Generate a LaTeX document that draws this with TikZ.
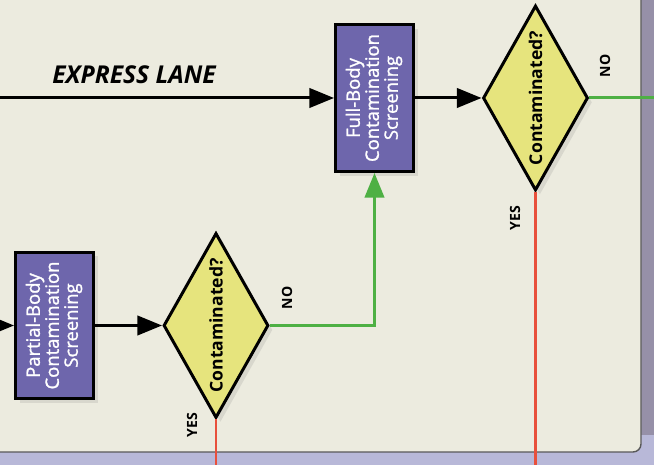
\documentclass[tikz,border=0pt]{standalone}
\usepackage{fontspec}
\setmainfont{Open Sans}
\newfontfamily\boxfont[FakeBold=1.4]{Open Sans}
\usepackage{graphicx}
\usetikzlibrary{shapes.geometric,arrows.meta,positioning,shadows}

\definecolor{panelbg}{RGB}{236,235,223}
\definecolor{bandbg}{RGB}{150,144,168}
\definecolor{lavbg}{RGB}{184,184,216}
\definecolor{boxfill}{RGB}{110,102,172}
\definecolor{diafill}{RGB}{230,228,125}
\definecolor{nogreen}{RGB}{78,176,68}
\definecolor{yesred}{RGB}{232,80,60}

\tikzset{
	screenbox/.style={draw=black, line width=1.7pt, fill=boxfill, text=white,
		minimum width=1.56cm, minimum height=2.94cm, inner sep=0pt,
		drop shadow={opacity=0.18, shadow xshift=2.5pt, shadow yshift=-2.5pt},
		font=\boxfont\fontsize{10.5}{10.3}\selectfont},
	decision/.style={diamond, draw=black, line width=1.7pt, fill=diafill, aspect=0.57,
		inner sep=0pt, minimum width=2.1cm, minimum height=3.7cm,
		drop shadow={opacity=0.18, shadow xshift=2.5pt, shadow yshift=-2.5pt},
		font=\bfseries\fontsize{10}{12}\selectfont},
	flow/.style={line width=1.7pt, -{Triangle[length=14pt,width=11pt]}},
	answer/.style={font=\bfseries\fontsize{8}{10}\selectfont, rotate=90},
}

\begin{document}
\begin{tikzpicture}[x=0.02cm,y=-0.02cm]
	\useasboundingbox (0,0) rectangle (654,465);
	% background and panel
	\fill[lavbg] (0,0) rectangle (654,465);
	\fill[bandbg] (641,0) rectangle (654,435);
	\fill[panelbg, rounded corners=0.16cm] (-10,-10) rectangle (641,452);
	\draw[black!65, line width=0.8pt, rounded corners=0.16cm] (641,-10) -- (641,452) -- (-10,452);
	
	% express lane
	\coordinate (expin) at (0,98);
	\node[font=\bfseries\itshape\fontsize{14}{16}\selectfont] (exptxt) at (134,75) {EXPRESS LANE};
	\node[screenbox] (fullbox) at (374.5,98)
		{\rotatebox{90}{\begin{tabular}{@{}c@{}}Full-Body\\Contamination\\Screening\end{tabular}}};
	\node[decision] (check1) at (535.5,98) {\rotatebox{90}{Contaminated?}};
	\node[answer] (no1) at (605,66) {NO};
	\node[answer] (yes1) at (515,218) {YES};
	\coordinate (exitno) at (660,98);
	\coordinate (exityes1) at (535.5,470);
	
	% partial-body lane
	\coordinate (partin) at (0,325.5);
	\node[screenbox] (partbox) at (54.5,325.5)
		{\rotatebox{90}{\begin{tabular}{@{}c@{}}Partial-Body\\Contamination\\Screening\end{tabular}}};
	\node[decision] (check2) at (216,325.5) {\rotatebox{90}{Contaminated?}};
	\node[answer] (no2) at (287,298) {NO};
	\node[answer] (yes2) at (192,425) {YES};
	\coordinate (exityes2) at (216,470);
	
	% connectors
	\draw[flow] (expin) -- (fullbox.west);
	\draw[flow] (fullbox.east) -- (check1.west);
	\draw[nogreen, line width=1.7pt] (check1.east) -- (exitno);
	\draw[yesred, line width=1.6pt] (check1.south) -- (exityes1);
	\draw[flow] (partin) -- (partbox.west);
	\draw[flow] (partbox.east) -- (check2.west);
	\draw[flow, nogreen] (check2.east) -| (fullbox.south);
	\draw[yesred, line width=1.6pt] (check2.south) -- (exityes2);
\end{tikzpicture}
\end{document}
